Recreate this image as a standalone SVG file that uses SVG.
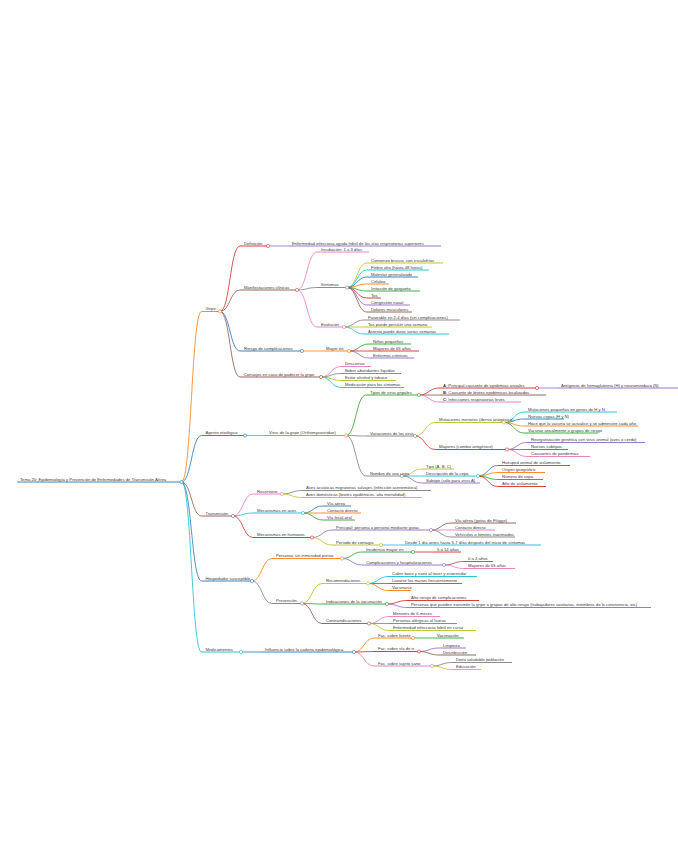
<svg xmlns="http://www.w3.org/2000/svg" width="678" height="848" viewBox="0 0 678 848">
<style>
text{font-family:"Liberation Sans",Arial,sans-serif;font-size:4.2px;fill:#3a3a3a}
.l{fill:none;stroke-width:.8}
.u{fill:none;stroke-width:.9}
.d{fill:#fff;stroke-width:.6}
.b{stroke:#1f77b4}.o{stroke:#ff7f0e}.g{stroke:#2ca02c}.r{stroke:#d62728}.p{stroke:#9467bd}
.br{stroke:#8c564b}.pk{stroke:#e377c2}.gy{stroke:#7f7f7f}.ol{stroke:#bcbd22}.c{stroke:#17becf}
</style>
<rect width="678" height="848" fill="#fff"/>
<g id="connectors">
<path class="l o" d="M181.5 482C191.5 482 191.5 311.5 201.5 311.5"/>
<path class="l b" d="M181.5 482C191.5 482 191.5 435.5 201.5 435.5"/>
<path class="l br" d="M181.5 482C191.5 482 191.5 516 201.5 516"/>
<path class="l b" d="M181.5 482C191.5 482 191.5 581 201.5 581"/>
<path class="l c" d="M181.5 482C191.5 482 191.5 652 201.5 652"/>
<path class="l r" d="M220 311.5C230 311.5 230 246 240 246"/>
<path class="l br" d="M220 311.5C230 311.5 230 290 240 290"/>
<path class="l b" d="M220 311.5C230 311.5 230 351 240 351"/>
<path class="l br" d="M220 311.5C230 311.5 230 377 240 377"/>
<path class="l p" d="M268 246H288"/>
<path class="l pk" d="M297 290C307 290 307 252 317 252"/>
<path class="l gy" d="M297 290C307 290 307 287.5 317 287.5"/>
<path class="l pk" d="M297 290C307 290 307 327 317 327"/>
<path class="l ol" d="M347 287.5C357 287.5 357 263 367 263"/>
<path class="l c" d="M347 287.5C357 287.5 357 270 367 270"/>
<path class="l b" d="M347 287.5C357 287.5 357 277 367 277"/>
<path class="l o" d="M347 287.5C357 287.5 357 284 367 284"/>
<path class="l g" d="M347 287.5C357 287.5 357 291 367 291"/>
<path class="l r" d="M347 287.5C357 287.5 357 298 367 298"/>
<path class="l p" d="M347 287.5C357 287.5 357 305 367 305"/>
<path class="l br" d="M347 287.5C357 287.5 357 312 367 312"/>
<path class="l gy" d="M344 327C354 327 354 320 364 320"/>
<path class="l ol" d="M344 327H364"/>
<path class="l c" d="M344 327C354 327 354 334 364 334"/>
<path class="l o" d="M302 351H322"/>
<path class="l g" d="M349 351C359 351 359 344 369 344"/>
<path class="l r" d="M349 351H369"/>
<path class="l p" d="M349 351C359 351 359 358 369 358"/>
<path class="l pk" d="M321 377C331 377 331 366.5 341 366.5"/>
<path class="l gy" d="M321 377C331 377 331 373.5 341 373.5"/>
<path class="l ol" d="M321 377C331 377 331 380.5 341 380.5"/>
<path class="l c" d="M321 377C331 377 331 387.5 341 387.5"/>
<path class="l o" d="M245 435.5H265"/>
<path class="l g" d="M346 435.5C356 435.5 356 395 366 395"/>
<path class="l gy" d="M346 435.5C356 435.5 356 436 366 436"/>
<path class="l gy" d="M346 435.5C356 435.5 356 476 366 476"/>
<path class="l r" d="M419 395C429 395 429 388 439 388"/>
<path class="l br" d="M419 395H439"/>
<path class="l pk" d="M419 395C429 395 429 402 439 402"/>
<path class="l p" d="M537 388H557"/>
<path class="l ol" d="M415 436C425 436 425 422.5 435 422.5"/>
<path class="l r" d="M415 436C425 436 425 449.5 435 449.5"/>
<path class="l c" d="M504 422.5C514 422.5 514 412 524 412"/>
<path class="l b" d="M504 422.5C514 422.5 514 419 524 419"/>
<path class="l o" d="M504 422.5C514 422.5 514 426 524 426"/>
<path class="l g" d="M504 422.5C514 422.5 514 433 524 433"/>
<path class="l p" d="M507 449.5C517 449.5 517 442.5 527 442.5"/>
<path class="l br" d="M507 449.5H527"/>
<path class="l pk" d="M507 449.5C517 449.5 517 456.5 527 456.5"/>
<path class="l ol" d="M402 476C412 476 412 469 422 469"/>
<path class="l c" d="M402 476H422"/>
<path class="l p" d="M402 476C412 476 412 483 422 483"/>
<path class="l b" d="M478 476C488 476 488 465.5 498 465.5"/>
<path class="l o" d="M478 476C488 476 488 472.5 498 472.5"/>
<path class="l g" d="M478 476C488 476 488 479.5 498 479.5"/>
<path class="l r" d="M478 476C488 476 488 486.5 498 486.5"/>
<path class="l pk" d="M233 516C243 516 243 494 253 494"/>
<path class="l c" d="M233 516C243 516 243 513 253 513"/>
<path class="l r" d="M233 516C243 516 243 537.5 253 537.5"/>
<path class="l gy" d="M282 494C292 494 292 490.5 302 490.5"/>
<path class="l ol" d="M282 494C292 494 292 497.5 302 497.5"/>
<path class="l b" d="M303 513C313 513 313 506 323 506"/>
<path class="l o" d="M303 513H323"/>
<path class="l g" d="M303 513C313 513 313 520 323 520"/>
<path class="l p" d="M312 537.5C322 537.5 322 530 332 530"/>
<path class="l ol" d="M312 537.5C322 537.5 322 545 332 545"/>
<path class="l br" d="M431 530C441 530 441 523 451 523"/>
<path class="l pk" d="M431 530H451"/>
<path class="l gy" d="M431 530C441 530 441 537 451 537"/>
<path class="l c" d="M381 545H401"/>
<path class="l o" d="M252 581C262 581 262 558.5 272 558.5"/>
<path class="l gy" d="M252 581C262 581 262 603.5 272 603.5"/>
<path class="l g" d="M342 558.5C352 558.5 352 552 362 552"/>
<path class="l p" d="M342 558.5C352 558.5 352 565 362 565"/>
<path class="l r" d="M413 552H433"/>
<path class="l br" d="M444 565C454 565 454 561.5 464 561.5"/>
<path class="l pk" d="M444 565C454 565 454 568.5 464 568.5"/>
<path class="l ol" d="M302 603.5C312 603.5 312 583.5 322 583.5"/>
<path class="l g" d="M302 603.5C312 603.5 312 604 322 604"/>
<path class="l br" d="M302 603.5C312 603.5 312 623.5 322 623.5"/>
<path class="l c" d="M368 583.5C378 583.5 378 576.5 388 576.5"/>
<path class="l b" d="M368 583.5H388"/>
<path class="l o" d="M368 583.5C378 583.5 378 590.5 388 590.5"/>
<path class="l r" d="M387 604C397 604 397 600.5 407 600.5"/>
<path class="l p" d="M387 604C397 604 397 607.5 407 607.5"/>
<path class="l pk" d="M369 623.5C379 623.5 379 616.5 389 616.5"/>
<path class="l gy" d="M369 623.5H389"/>
<path class="l ol" d="M369 623.5C379 623.5 379 630.5 389 630.5"/>
<path class="l b" d="M241 652H261"/>
<path class="l o" d="M354 652C364 652 364 638 374 638"/>
<path class="l r" d="M354 652C364 652 364 651.5 374 651.5"/>
<path class="l pk" d="M354 652C364 652 364 666 374 666"/>
<path class="l g" d="M413 638H433"/>
<path class="l p" d="M419 651.5C429 651.5 429 648 439 648"/>
<path class="l br" d="M419 651.5C429 651.5 429 655 439 655"/>
<path class="l gy" d="M432 666C442 666 442 662.5 452 662.5"/>
<path class="l ol" d="M432 666C442 666 442 669.5 452 669.5"/>
</g>
<g id="root"><path class="u b" d="M17 482H181.5"/><circle class="d b" cx="181.5" cy="482" r="1.6"/><text x="20" y="480.6">Tema 20: Epidemiología y Prevención de Enfermedades de Transmisión Aérea</text></g>
<g id="gripe"><path class="u o" d="M201.5 311.5H220"/><circle class="d o" cx="220" cy="311.5" r="1.6"/><text x="205.5" y="310.1">Gripe</text></g>
<g id="definicion"><path class="u r" d="M240 246H268"/><circle class="d r" cx="268" cy="246" r="1.6"/><text x="244" y="244.6">Definición</text></g>
<g id="def-texto"><path class="u p" d="M288 246H441"/><text x="292" y="244.6">Enfermedad infecciosa aguda febril de las vías respiratorias superiores</text></g>
<g id="manifestaciones"><path class="u br" d="M240 290H297"/><circle class="d br" cx="297" cy="290" r="1.6"/><text x="244" y="288.6">Manifestaciones clínicas</text></g>
<g id="incubacion"><path class="u pk" d="M317 252H369"/><text x="321" y="250.6">Incubación: 1 a 3 días</text></g>
<g id="sintomas"><path class="u gy" d="M317 287.5H347"/><circle class="d gy" cx="347" cy="287.5" r="1.6"/><text x="321" y="286.1">Síntomas</text></g>
<g id="s1"><path class="u ol" d="M367 263H443"/><text x="371" y="261.6">Comienzo brusco, con escalofríos</text></g>
<g id="s2"><path class="u c" d="M367 270H429"/><text x="371" y="268.6">Fiebre alta (hasta 48 horas)</text></g>
<g id="s3"><path class="u b" d="M367 277H418"/><text x="371" y="275.6">Malestar generalizado</text></g>
<g id="s4"><path class="u o" d="M367 284H389"/><text x="371" y="282.6">Cefalea</text></g>
<g id="s5"><path class="u g" d="M367 291H420"/><text x="371" y="289.6">Irritación de garganta</text></g>
<g id="s6"><path class="u r" d="M367 298H381"/><text x="371" y="296.6">Tos</text></g>
<g id="s7"><path class="u p" d="M367 305H410"/><text x="371" y="303.6">Congestión nasal</text></g>
<g id="s8"><path class="u br" d="M367 312H412"/><text x="371" y="310.6">Dolores musculares</text></g>
<g id="evolucion"><path class="u pk" d="M317 327H344"/><circle class="d pk" cx="344" cy="327" r="1.6"/><text x="321" y="325.6">Evolución</text></g>
<g id="e1"><path class="u gy" d="M364 320H460"/><text x="368" y="318.6">Favorable en 2-4 días (sin complicaciones)</text></g>
<g id="e2"><path class="u ol" d="M364 327H432"/><text x="368" y="325.6">Tos puede persistir una semana</text></g>
<g id="e3"><path class="u c" d="M364 334H449"/><text x="368" y="332.6">Astenia puede durar varias semanas</text></g>
<g id="riesgo"><path class="u b" d="M240 351H302"/><circle class="d b" cx="302" cy="351" r="1.6"/><text x="244" y="349.6">Riesgo de complicaciones</text></g>
<g id="mayor-en"><path class="u o" d="M322 351H349"/><circle class="d o" cx="349" cy="351" r="1.6"/><text x="326" y="349.6">Mayor en</text></g>
<g id="r1"><path class="u g" d="M369 344H411"/><text x="373" y="342.6">Niños pequeños</text></g>
<g id="r2"><path class="u r" d="M369 351H419"/><text x="373" y="349.6">Mayores de 65 años</text></g>
<g id="r3"><path class="u p" d="M369 358H414"/><text x="373" y="356.6">Enfermos crónicos</text></g>
<g id="consejos"><path class="u br" d="M240 377H321"/><circle class="d br" cx="321" cy="377" r="1.6"/><text x="244" y="375.6">Consejos en caso de padecer la gripe</text></g>
<g id="c1"><path class="u pk" d="M341 366.5H371"/><text x="345" y="365.1">Descansar</text></g>
<g id="c2"><path class="u gy" d="M341 373.5H401"/><text x="345" y="372.1">Beber abundantes líquidos</text></g>
<g id="c3"><path class="u ol" d="M341 380.5H396"/><text x="345" y="379.1">Evitar alcohol y tabaco</text></g>
<g id="c4"><path class="u c" d="M341 387.5H404"/><text x="345" y="386.1">Medicación para los síntomas</text></g>
<g id="agente"><path class="u b" d="M201.5 435.5H245"/><circle class="d b" cx="245" cy="435.5" r="1.6"/><text x="205.5" y="434.1">Agente etiológico</text></g>
<g id="virus"><path class="u o" d="M265 435.5H346"/><circle class="d o" cx="346" cy="435.5" r="1.6"/><text x="269" y="434.1">Virus de la gripe (Orthomyxoviridae)</text></g>
<g id="tipos"><path class="u g" d="M366 395H419"/><circle class="d g" cx="419" cy="395" r="1.6"/><text x="370" y="393.6">Tipos de virus gripales</text></g>
<g id="tipo-a"><path class="u r" d="M439 388H537"/><circle class="d r" cx="537" cy="388" r="1.6"/><text x="443" y="386.6"><tspan font-weight="bold">A</tspan>: Principal causante de epidemias anuales</text></g>
<g id="antigenos"><path class="u p" d="M557 388H678"/><text x="561" y="386.6">Antígenos de hemaglutinina (H) y neuraminidasa (N)</text></g>
<g id="tipo-b"><path class="u br" d="M439 395H546"/><text x="443" y="393.6"><tspan font-weight="bold">B</tspan>: Causante de brotes epidémicos localizados</text></g>
<g id="tipo-c"><path class="u pk" d="M439 402H521"/><text x="443" y="400.6"><tspan font-weight="bold">C</tspan>: Infecciones respiratorias leves</text></g>
<g id="variaciones"><path class="u gy" d="M366 436H415"/><circle class="d gy" cx="415" cy="436" r="1.6"/><text x="370" y="434.6">Variaciones de los virus</text></g>
<g id="menores"><path class="u ol" d="M435 422.5H504"/><circle class="d ol" cx="504" cy="422.5" r="1.6"/><text x="439" y="421.1">Mutaciones menores (deriva antigénica)</text></g>
<g id="m1"><path class="u c" d="M524 412H617"/><text x="528" y="410.6">Mutaciones pequeñas en genes de H y N</text></g>
<g id="m2"><path class="u b" d="M524 419H564"/><text x="528" y="417.6">Nuevas cepas (H y N)</text></g>
<g id="m3"><path class="u o" d="M524 426H638"/><text x="528" y="424.6">Hace que la vacuna se actualice y se administre cada año</text></g>
<g id="m4"><path class="u g" d="M524 433H598"/><text x="528" y="431.6">Vacunar anualmente a grupos de riesgo</text></g>
<g id="mayores"><path class="u r" d="M435 449.5H507"/><circle class="d r" cx="507" cy="449.5" r="1.6"/><text x="439" y="448.1">Mayores (cambio antigénico)</text></g>
<g id="y1"><path class="u p" d="M527 442.5H645"/><text x="531" y="441.1">Reorganización genética con virus animal (aves o cerdo)</text></g>
<g id="y2"><path class="u br" d="M527 449.5H568"/><text x="531" y="448.1">Nuevos subtipos</text></g>
<g id="y3"><path class="u pk" d="M527 456.5H590"/><text x="531" y="455.1">Causantes de pandemias</text></g>
<g id="nombre"><path class="u gy" d="M366 476H402"/><circle class="d gy" cx="402" cy="476" r="1.6"/><text x="370" y="474.6">Nombre de una cepa</text></g>
<g id="n1"><path class="u ol" d="M422 469H454"/><text x="426" y="467.6">Tipo (A, B, C)</text></g>
<g id="descripcion"><path class="u c" d="M422 476H478"/><circle class="d c" cx="478" cy="476" r="1.6"/><text x="426" y="474.6">Descripción de la cepa</text></g>
<g id="d1"><path class="u b" d="M498 465.5H570"/><text x="502" y="464.1">Huésped animal de aislamiento</text></g>
<g id="d2"><path class="u o" d="M498 472.5H545"/><text x="502" y="471.1">Origen geográfico</text></g>
<g id="d3"><path class="u g" d="M498 479.5H543"/><text x="502" y="478.1">Número de cepa</text></g>
<g id="d4"><path class="u r" d="M498 486.5H546"/><text x="502" y="485.1">Año de aislamiento</text></g>
<g id="n3"><path class="u p" d="M422 483H480"/><text x="426" y="481.6">Subtipo (sólo para virus A)</text></g>
<g id="transmision"><path class="u br" d="M201.5 516H233"/><circle class="d br" cx="233" cy="516" r="1.6"/><text x="205.5" y="514.6">Transmisión</text></g>
<g id="reservorio"><path class="u pk" d="M253 494H282"/><circle class="d pk" cx="282" cy="494" r="1.6"/><text x="257" y="492.6">Reservorio</text></g>
<g id="v1"><path class="u gy" d="M302 490.5H431"/><text x="306" y="489.1">Aves acuáticas migratorias salvajes (infección asintomática)</text></g>
<g id="v2"><path class="u ol" d="M302 497.5H422"/><text x="306" y="496.1">Aves domésticas (brotes epidémicos, alta mortalidad)</text></g>
<g id="mec-aves"><path class="u c" d="M253 513H303"/><circle class="d c" cx="303" cy="513" r="1.6"/><text x="257" y="511.6">Mecanismos en aves</text></g>
<g id="a1"><path class="u b" d="M323 506H351"/><text x="327" y="504.6">Vía aérea</text></g>
<g id="a2"><path class="u o" d="M323 513H361"/><text x="327" y="511.6">Contacto directo</text></g>
<g id="a3"><path class="u g" d="M323 520H355"/><text x="327" y="518.6">Vía fecal-oral</text></g>
<g id="mec-hum"><path class="u r" d="M253 537.5H312"/><circle class="d r" cx="312" cy="537.5" r="1.6"/><text x="257" y="536.1">Mecanismos en humanos</text></g>
<g id="principal"><path class="u p" d="M332 530H431"/><circle class="d p" cx="431" cy="530" r="1.6"/><text x="336" y="528.6">Principal: persona a persona mediante gotas</text></g>
<g id="h1"><path class="u br" d="M451 523H516"/><text x="455" y="521.6">Vía aérea (gotas de Flügge)</text></g>
<g id="h2"><path class="u pk" d="M451 530H495"/><text x="455" y="528.6">Contacto directo</text></g>
<g id="h3"><path class="u gy" d="M451 537H515"/><text x="455" y="535.6">Vehículos o fómites inanimados</text></g>
<g id="periodo"><path class="u ol" d="M332 545H381"/><circle class="d ol" cx="381" cy="545" r="1.6"/><text x="336" y="543.6">Período de contagio</text></g>
<g id="desde"><path class="u c" d="M401 545H541"/><text x="405" y="543.6">Desde 1 día antes hasta 5-7 días después del inicio de síntomas</text></g>
<g id="hospedador"><path class="u b" d="M201.5 581H252"/><circle class="d b" cx="252" cy="581" r="1.6"/><text x="205.5" y="579.6">Hospedador susceptible</text></g>
<g id="personas"><path class="u o" d="M272 558.5H342"/><circle class="d o" cx="342" cy="558.5" r="1.6"/><text x="276" y="557.1">Personas sin inmunidad previa</text></g>
<g id="incidencia"><path class="u g" d="M362 552H413"/><circle class="d g" cx="413" cy="552" r="1.6"/><text x="366" y="550.6">Incidencia mayor en</text></g>
<g id="i1"><path class="u r" d="M433 552H461"/><text x="437" y="550.6">5 a 14 años</text></g>
<g id="complic"><path class="u p" d="M362 565H444"/><circle class="d p" cx="444" cy="565" r="1.6"/><text x="366" y="563.6">Complicaciones y hospitalizaciones</text></g>
<g id="k1"><path class="u br" d="M464 561.5H493"/><text x="468" y="560.1">0 a 4 años</text></g>
<g id="k2"><path class="u pk" d="M464 568.5H515"/><text x="468" y="567.1">Mayores de 65 años</text></g>
<g id="prevencion"><path class="u gy" d="M272 603.5H302"/><circle class="d gy" cx="302" cy="603.5" r="1.6"/><text x="276" y="602.1">Prevención</text></g>
<g id="recom"><path class="u ol" d="M322 583.5H368"/><circle class="d ol" cx="368" cy="583.5" r="1.6"/><text x="326" y="582.1">Recomendaciones</text></g>
<g id="q1"><path class="u c" d="M388 576.5H477"/><text x="392" y="575.1">Cubrir boca y nariz al toser y estornudar</text></g>
<g id="q2"><path class="u b" d="M388 583.5H462"/><text x="392" y="582.1">Lavarse las manos frecuentemente</text></g>
<g id="q3"><path class="u o" d="M388 590.5H411"/><text x="392" y="589.1">Vacunarse</text></g>
<g id="indicaciones"><path class="u g" d="M322 604H387"/><circle class="d g" cx="387" cy="604" r="1.6"/><text x="326" y="602.6">Indicaciones de la vacunación</text></g>
<g id="j1"><path class="u r" d="M407 600.5H479"/><text x="411" y="599.1">Alto riesgo de complicaciones</text></g>
<g id="j2"><path class="u p" d="M407 607.5H651"/><text x="411" y="606.1">Personas que pueden transmitir la gripe a grupos de alto riesgo (trabajadores sanitarios, miembros de la convivencia, etc)</text></g>
<g id="contra"><path class="u br" d="M322 623.5H369"/><circle class="d br" cx="369" cy="623.5" r="1.6"/><text x="326" y="622.1">Contraindicaciones</text></g>
<g id="x1"><path class="u pk" d="M389 616.5H440"/><text x="393" y="615.1">Menores de 6 meses</text></g>
<g id="x2"><path class="u gy" d="M389 623.5H457"/><text x="393" y="622.1">Personas alérgicas al huevo</text></g>
<g id="x3"><path class="u ol" d="M389 630.5H476"/><text x="393" y="629.1">Enfermedad infecciosa febril en curso</text></g>
<g id="medidas"><path class="u c" d="M201.5 652H241"/><circle class="d c" cx="241" cy="652" r="1.6"/><text x="205.5" y="650.6">Medicamentos</text></g>
<g id="influencia"><path class="u b" d="M261 652H354"/><circle class="d b" cx="354" cy="652" r="1.6"/><text x="265" y="650.6">Influencia sobre la cadena epidemiológica</text></g>
<g id="f1"><path class="u o" d="M374 638H413"/><circle class="d o" cx="413" cy="638" r="1.6"/><text x="378" y="636.6">Fac. sobre fuente</text></g>
<g id="f1a"><path class="u g" d="M433 638H464"/><text x="437" y="636.6">Vacunación</text></g>
<g id="f2"><path class="u r" d="M374 651.5H419"/><circle class="d r" cx="419" cy="651.5" r="1.6"/><text x="378" y="650.1">Fac. sobre vía de tr.</text></g>
<g id="f2a"><path class="u p" d="M439 648H466"/><text x="443" y="646.6">Limpieza</text></g>
<g id="f2b"><path class="u br" d="M439 655H476"/><text x="443" y="653.6">Desinfección</text></g>
<g id="f3"><path class="u pk" d="M374 666H432"/><circle class="d pk" cx="432" cy="666" r="1.6"/><text x="378" y="664.6">Fac. sobre sujeto sano</text></g>
<g id="f3a"><path class="u gy" d="M452 662.5H512"/><text x="456" y="661.1">Dieta saludable población</text></g>
<g id="f3b"><path class="u ol" d="M452 669.5H481"/><text x="456" y="668.1">Educación</text></g>
</svg>
